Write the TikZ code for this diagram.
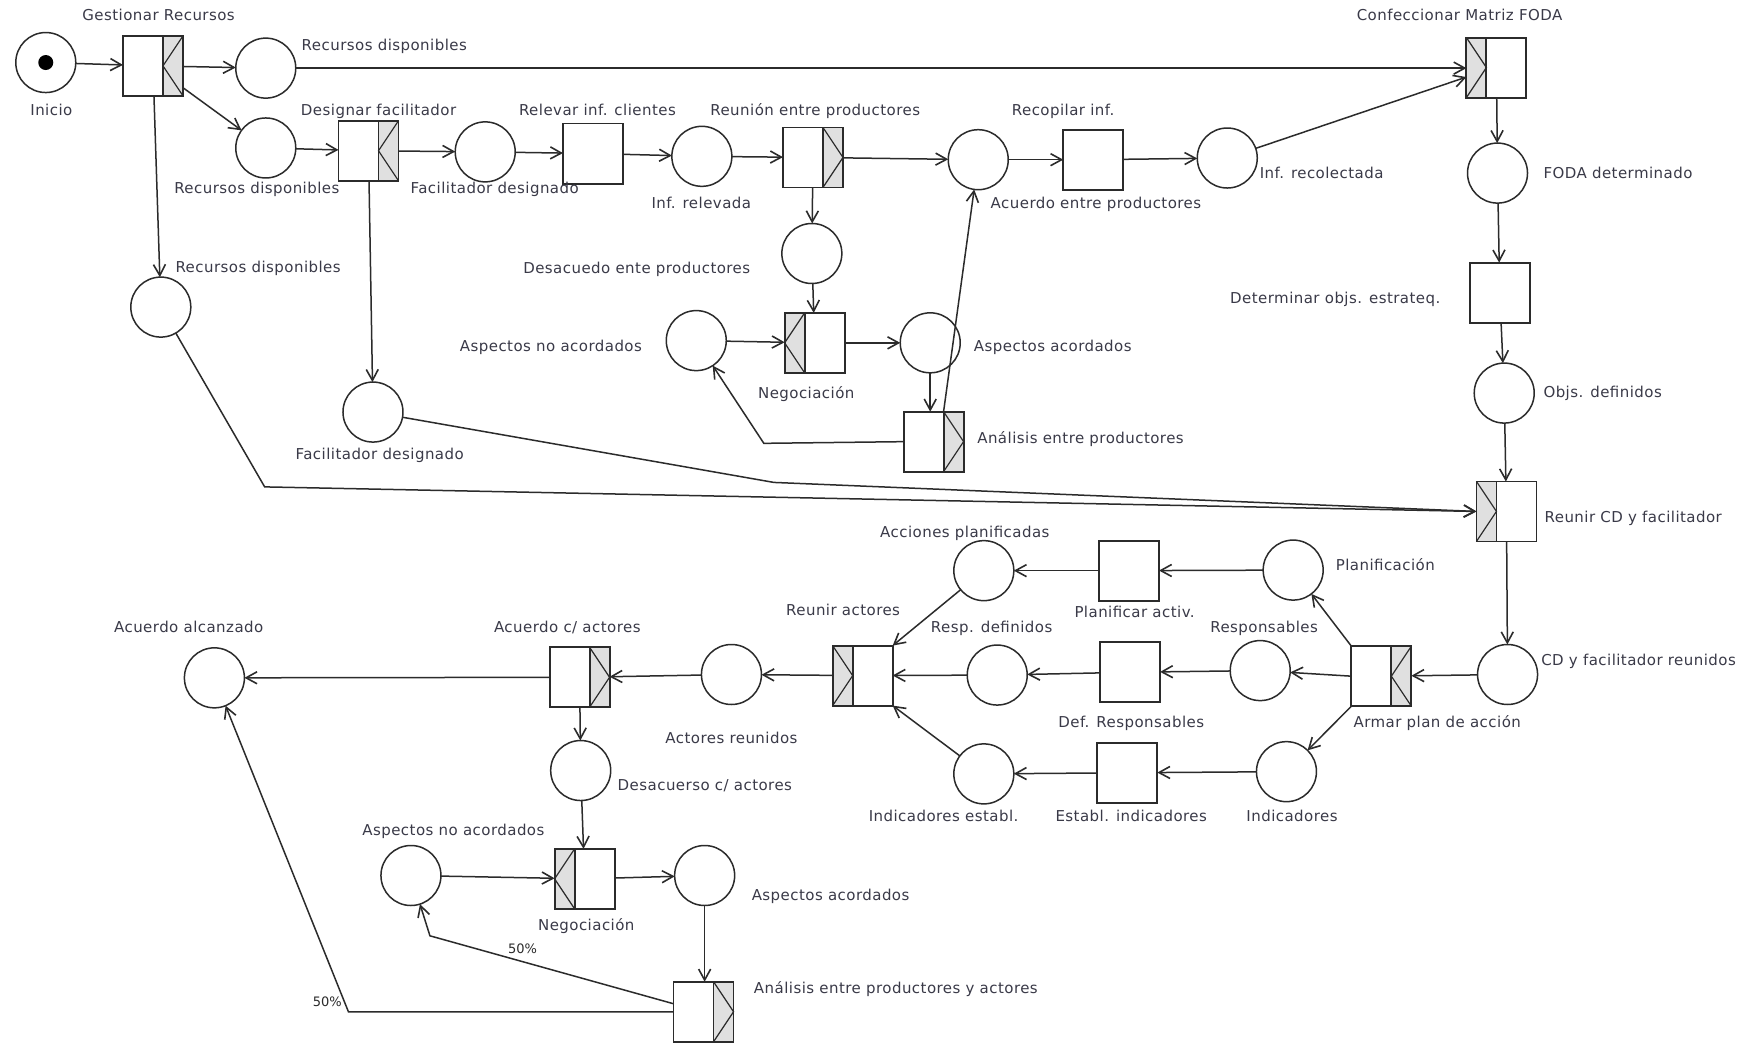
\documentclass[tikz,border=0pt]{standalone}
\usepackage{fontspec}
\newfontfamily\lblfont[LetterSpace=3]{DejaVu Sans}
\newfontfamily\pctfont{DejaVu Sans}
\usetikzlibrary{arrows.meta,calc}
\definecolor{ink}{HTML}{2B2B2B}
\definecolor{txt}{HTML}{3A3A48}
\definecolor{stripgray}{HTML}{E0E0E0}

\tikzset{
  place/.style={circle, draw=ink, line width=1.5pt, fill=white, minimum size=60pt, inner sep=0pt, outer sep=0pt},
  task/.style={rectangle, draw=ink, line width=1.9pt, fill=white, minimum width=60pt, minimum height=60pt, inner sep=0pt, outer sep=0pt},
  boxline/.style={draw=ink, line width=1.9pt},
  chev/.style={draw=ink, line width=1.2pt},
  flow/.style={draw=ink, line width=1.5pt, -{Straight Barb[length=11pt,width=12pt,line width=1.6pt]}},
  lbl/.style={font=\lblfont\fontsize{15}{18}\selectfont, text=txt, inner sep=0pt, text height=11pt, text depth=3pt},
  pct/.style={font=\pctfont\fontsize{13}{15}\selectfont, text=ink, inner sep=0pt},
  token/.style={circle, fill=black, minimum size=15pt, inner sep=0pt},
}

% split/join strip of a task: #1 task, #2 side (L/R), #3 chevron vertex on outer (o) or inner (i) edge
\newcommand\ystrip[3]{%
  \ifx L#2
    \coordinate (s-a) at (#1.north west);
    \coordinate (s-b) at (#1.south west);
    \coordinate (s-c) at ([xshift=20pt]#1.north west);
    \coordinate (s-d) at ([xshift=20pt]#1.south west);
  \else
    \coordinate (s-a) at (#1.north east);
    \coordinate (s-b) at (#1.south east);
    \coordinate (s-c) at ([xshift=-20pt]#1.north east);
    \coordinate (s-d) at ([xshift=-20pt]#1.south east);
  \fi
  \fill[stripgray] (s-a) rectangle (s-d);
  \ifx o#3
    \draw[chev] (s-c) -- ($(s-a)!0.5!(s-b)$) -- (s-d);
  \else
    \draw[chev] (s-a) -- ($(s-c)!0.5!(s-d)$) -- (s-b);
  \fi
  \draw[boxline] (s-c) -- (s-d);
  \draw[boxline] (#1.north west) rectangle (#1.south east);
}

\begin{document}
\begin{tikzpicture}[x=1.1167pt, y=-1.1167pt]
\path[use as bounding box, fill=white] (0,0) rectangle (1568,934);

% places
\node[place] (inicio) at (41,56) {};
\node[token] (tok) at (inicio) {};
\node[place] (rd1) at (238,61) {};
\node[place] (rd2) at (238,132.5) {};
\node[place] (rd3) at (144,275) {};
\node[place] (fd1) at (434.5,136) {};
\node[place] (fd2) at (334,369) {};
\node[place] (infrel) at (628.5,140) {};
\node[place] (acprod) at (876,143) {};
\node[place] (infrec) at (1099,141.5) {};
\node[place] (desac) at (727,227) {};
\node[place] (aspno1) at (623.5,305) {};
\node[place] (aspac1) at (833,307) {};
\node[place] (fodadet) at (1341,155) {};
\node[place] (objs) at (1347,352) {};
\node[place] (cdreun) at (1350,604) {};
\node[place] (planific) at (1158,510.5) {};
\node[place] (respons) at (1128.5,600.5) {};
\node[place] (indic) at (1152,691) {};
\node[place] (accplan) at (881,511) {};
\node[place] (respdef) at (893,604.5) {};
\node[place] (indest) at (881,693) {};
\node[place] (actreun) at (655,604) {};
\node[place] (acualc) at (192,607) {};
\node[place] (desacact) at (520,690) {};
\node[place] (aspno2) at (368,784) {};
\node[place] (aspac2) at (631,784) {};

% tasks
\node[task] (gest) at (137,59) {};
\node[task] (desig) at (330,135) {};
\node[task] (relev) at (531,137.5) {};
\node[task] (reun) at (728,141) {};
\node[task] (recop) at (979,143) {};
\node[task] (confec) at (1340,60.5) {};
\node[task] (determ) at (1343,262) {};
\node[task] (negoc1) at (729.5,307) {};
\node[task] (anal1) at (836,395.5) {};
\node[task] (reunircd) at (1349,458) {};
\node[task] (armar) at (1237,605.5) {};
\node[task] (planif) at (1011,511) {};
\node[task] (defresp) at (1012,602) {};
\node[task] (establ) at (1009.5,692) {};
\node[task] (reunact) at (772.5,605) {};
\node[task] (acuact) at (519,606.5) {};
\node[task] (negoc2) at (523.5,787) {};
\node[task] (analpa) at (630,906) {};

\ystrip{gest}{R}{i}
\ystrip{desig}{R}{i}
\ystrip{reun}{R}{o}
\ystrip{confec}{L}{i}
\ystrip{negoc1}{L}{o}
\ystrip{anal1}{R}{o}
\ystrip{reunircd}{L}{i}
\ystrip{armar}{R}{i}
\ystrip{reunact}{L}{i}
\ystrip{acuact}{R}{o}
\ystrip{negoc2}{L}{o}
\ystrip{analpa}{R}{o}

% bends
\coordinate (k1) at (684,397);
\coordinate (k2) at (237,436);
\coordinate (k3) at (693,432);
\coordinate (k4) at (385,838);
\coordinate (k5) at (312,906);

% arcs
\draw[flow] (inicio) -- (gest);
\draw[flow] (gest) -- (rd1);
\draw[flow] (gest) -- (rd2);
\draw[flow] (gest) -- (rd3);
\draw[flow] (rd1) -- (rd1 -| confec.west);
\draw[flow] (rd2) -- (desig);
\draw[flow] (desig) -- (fd1);
\draw[flow] (desig) -- (fd2);
\draw[flow] (fd1) -- (relev);
\draw[flow] (relev) -- (infrel);
\draw[flow] (infrel) -- (reun);
\draw[flow] (reun) -- (acprod);
\draw[flow] (reun) -- (desac);
\draw[flow] (desac) -- (negoc1);
\draw[flow] (aspno1) -- (negoc1);
\draw[flow] (negoc1) -- (aspac1);
\draw[flow] (aspac1) -- (aspac1 |- anal1.north);
\draw[flow] (anal1.west) -- (k1) -- (aspno1);
\draw[flow] ([xshift=-20pt]anal1.north east) -- (acprod);
\draw[flow] (acprod) -- (recop);
\draw[flow] (recop) -- (infrec);
\draw[flow] (infrec) -- ([yshift=-9.5pt]confec.west);
\draw[flow] (confec) -- (fodadet);
\draw[flow] (fodadet) -- (determ);
\draw[flow] (determ) -- (objs);
\draw[flow] (objs) -- (reunircd);
\draw[flow] (rd3) -- (k2) -- (reunircd.west);
\draw[flow] (fd2) -- (k3) -- (reunircd.west);
\draw[flow] (reunircd) -- (cdreun);
\draw[flow] (cdreun) -- (armar);
\draw[flow] (armar.north west) -- (planific);
\draw[flow] (armar.west) -- (respons);
\draw[flow] (armar.south west) -- (indic);
\draw[flow] (planific) -- (planif);
\draw[flow] (planif) -- (accplan);
\draw[flow] (respons) -- (defresp);
\draw[flow] (defresp) -- (respdef);
\draw[flow] (indic) -- (establ);
\draw[flow] (establ) -- (indest);
\draw[flow] (accplan) -- (reunact.north east);
\draw[flow] (respdef) -- (reunact);
\draw[flow] (indest) -- (reunact.south east);
\draw[flow] (reunact) -- (actreun);
\draw[flow] (actreun) -- (acuact);
\draw[flow] (acuact) -- (acualc);
\draw[flow] (acuact) -- (desacact);
\draw[flow] (desacact) -- (negoc2);
\draw[flow] (aspno2) -- (negoc2);
\draw[flow] (negoc2) -- (aspac2);
\draw[flow] (aspac2) -- (aspac2 |- analpa.north);
\draw[flow] ([yshift=8pt]analpa.west) -- (k4) -- (aspno2);
\draw[flow] (analpa.west) -- (k5) -- (acualc);

% labels
\node[lbl] (t-inicio) at (46,100) {Inicio};
\node[lbl] (t-gest) at (142,15) {Gestionar Recursos};
\node[lbl, anchor=west] (t-rd1) at (270,42) {Recursos disponibles};
\node[lbl] (t-rd2) at (230,170) {Recursos disponibles};
\node[lbl, anchor=west] (t-rd3) at (157,240) {Recursos disponibles};
\node[lbl] (t-desig) at (339,100) {Designar facilitador};
\node[lbl] (t-fd1) at (443,170) {Facilitador designado};
\node[lbl] (t-fd2) at (340,408) {Facilitador designado};
\node[lbl] (t-relev) at (535,100) {Relevar inf. clientes};
\node[lbl] (t-reun) at (730,100) {Reunión entre productores};
\node[lbl] (t-infrel) at (628,183) {Inf. relevada};
\node[lbl, anchor=west] (t-acprod) at (887,183) {Acuerdo entre productores};
\node[lbl] (t-recop) at (952,100) {Recopilar inf.};
\node[lbl, anchor=west] (t-infrec) at (1128,156) {Inf. recolectada};
\node[lbl] (t-confec) at (1307,15) {Confeccionar Matriz FODA};
\node[lbl, anchor=west] (t-foda) at (1382,156) {FODA determinado};
\node[lbl, anchor=east] (t-determ) at (1290,268) {Determinar objs. estrateq.};
\node[lbl, anchor=west] (t-objs) at (1382,352) {Objs. definidos};
\node[lbl, anchor=west] (t-reunircd) at (1383,464) {Reunir CD y facilitador};
\node[lbl, anchor=east] (t-desac) at (672,241) {Desacuedo ente productores};
\node[lbl, anchor=east] (t-aspno1) at (575,311) {Aspectos no acordados};
\node[lbl] (t-negoc1) at (722,353) {Negociación};
\node[lbl, anchor=west] (t-aspac1) at (872,311) {Aspectos acordados};
\node[lbl, anchor=west] (t-anal1) at (875,394) {Análisis entre productores};
\node[lbl, anchor=west] (t-cdreun) at (1380,592) {CD y facilitador reunidos};
\node[lbl] (t-armar) at (1287,648) {Armar plan de acción};
\node[lbl, anchor=west] (t-planific) at (1196,507) {Planificación};
\node[lbl] (t-respons) at (1132,563) {Responsables};
\node[lbl] (t-indic) at (1157,732) {Indicadores};
\node[lbl] (t-planif) at (1016,549) {Planificar activ.};
\node[lbl] (t-defresp) at (1013,648) {Def. Responsables};
\node[lbl] (t-establ) at (1013,732) {Establ. indicadores};
\node[lbl] (t-accplan) at (864,478) {Acciones planificadas};
\node[lbl] (t-respdef) at (888,563) {Resp. definidos};
\node[lbl] (t-indest) at (845,732) {Indicadores establ.};
\node[lbl] (t-reunact) at (755,548) {Reunir actores};
\node[lbl] (t-actreun) at (655,662) {Actores reunidos};
\node[lbl] (t-acuact) at (508,563) {Acuerdo c/ actores};
\node[lbl] (t-acualc) at (169,563) {Acuerdo alcanzado};
\node[lbl, anchor=west] (t-desacact) at (553,704) {Desacuerso c/ actores};
\node[lbl] (t-negoc2) at (525,830) {Negociación};
\node[lbl] (t-aspno2) at (406,745) {Aspectos no acordados};
\node[lbl, anchor=west] (t-aspac2) at (673,803) {Aspectos acordados};
\node[lbl, anchor=west] (t-analpa) at (675,886) {Análisis entre productores y actores};
\node[pct] (p1) at (468,850) {50\%};
\node[pct] (p2) at (293,897) {50\%};
\end{tikzpicture}
\end{document}
